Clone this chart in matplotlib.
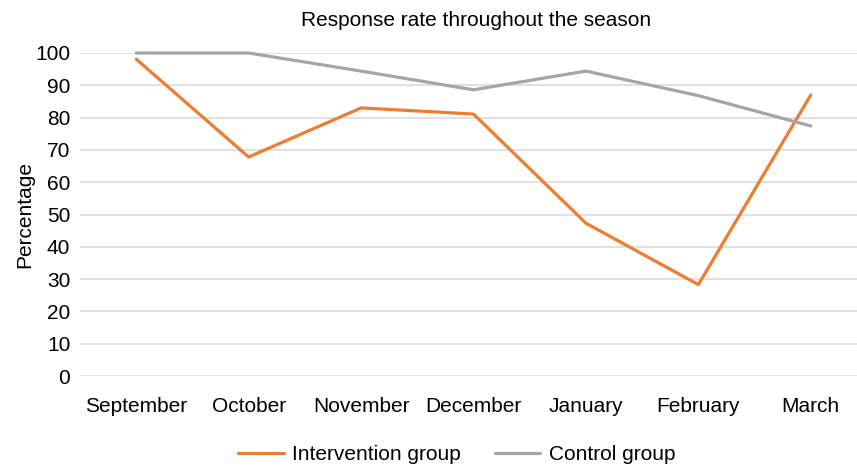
import matplotlib.pyplot as plt

months = ["September", "October", "November", "December", "January", "February", "March"]
intervention = [98.1, 67.8, 83.0, 81.1, 47.3, 28.3, 87.0]
control = [100.0, 100.0, 94.4, 88.6, 94.4, 86.8, 77.4]

plt.rcParams['font.family'] = ['Liberation Sans', 'DejaVu Sans']
fs = 15

fig = plt.figure(figsize=(8.57, 4.68), dpi=100)
ax = fig.add_axes([80 / 857, 1 - 376 / 468, 787 / 857, 323 / 468])

x = list(range(len(months)))
ax.plot(x, intervention, color='#ED7D31', lw=2.3, label="Intervention group",
        clip_on=False, solid_capstyle='round')
ax.plot(x, control, color='#A5A5A5', lw=2.3, label="Control group",
        clip_on=False, solid_capstyle='round')

ax.set_xlim(-0.5, len(months) - 0.5)
ax.set_ylim(0, 100)
ax.set_yticks(range(0, 101, 10))
ax.set_xticks(x)
ax.set_xticklabels(months)
ax.tick_params(axis='both', length=0, labelsize=fs, colors='#000000')
ax.tick_params(axis='x', pad=15)
ax.tick_params(axis='y', pad=7)
ax.yaxis.grid(True, color='#D9D9D9', lw=1.1)
ax.set_axisbelow(True)
for s in ax.spines.values():
    s.set_visible(False)

ax.set_ylabel("Percentage", fontsize=fs, labelpad=1)
fig.text(0.555, 1 - 20 / 468, "Response rate throughout the season", ha='center',
         va='center', fontsize=fs)

fig.legend(loc='center', bbox_to_anchor=(0.533, 1 - 455 / 468), ncol=2, frameon=False,
           fontsize=fs, handlelength=2.2, columnspacing=1.6, handletextpad=0.4)

fig.savefig("out.png", dpi=100)
